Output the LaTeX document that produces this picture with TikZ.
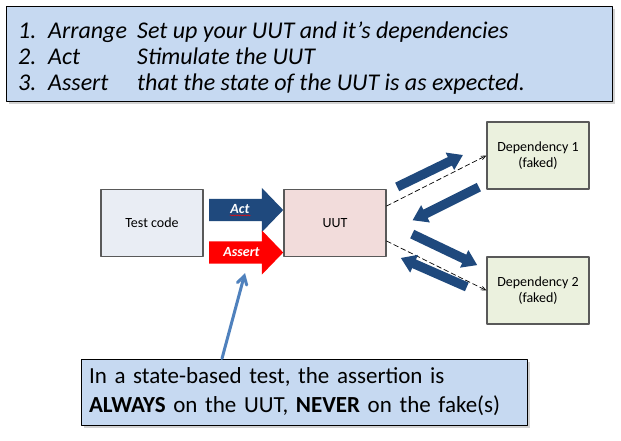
\documentclass[tikz,border=0pt]{standalone}
\usepackage{fontspec}
\setmainfont{Carlito}
\usetikzlibrary{arrows,shapes.arrows,shadows,decorations.pathmorphing}
\definecolor{darkblue}{HTML}{1F497D}
\definecolor{lightblue}{HTML}{C6D9F1}
\definecolor{midblue}{HTML}{4F81BD}
\definecolor{testfill}{HTML}{E9EDF4}
\definecolor{uutfill}{HTML}{F2DCDB}
\definecolor{depfill}{HTML}{EBF1DE}
\definecolor{boxline}{HTML}{595959}
\tikzset{
  box/.style={draw=boxline,line width=1.2pt,minimum width=102pt,minimum height=67pt,align=center,font=\fontsize{14}{16.5}\selectfont},
  fatarrow/.style={single arrow,fill=darkblue,draw=none,inner xsep=0pt,inner ysep=4.5pt,anchor=tail,single arrow head extend=5pt,single arrow tip angle=68},
  bigarrow/.style={single arrow,draw=none,inner xsep=0pt,inner ysep=11pt,anchor=tail,minimum height=74pt,single arrow head extend=11pt,single arrow tip angle=92},
  note/.style={draw=black,line width=1pt,fill=lightblue,drop shadow={opacity=0.35,shadow xshift=3pt,shadow yshift=-3pt}},
  arrowlbl/.style={text=white,inner sep=0.5pt,font=\fontsize{14}{16}\selectfont\bfseries\itshape},
  spell/.style={red,line width=0.5pt,decorate,decoration={snake,amplitude=0.6pt,segment length=2.5pt}}
}
\begin{document}
\begin{tikzpicture}[line cap=round,line join=round,>=angle 45,x=1pt,y=-1pt]
\path[use as bounding box,fill=white] (0,0) rectangle (621,440);
% the three steps
\node[note,minimum width=606pt,minimum height=95pt] (steps) at (309,53.5) {};
\foreach \i/\term/\desc in {1/Arrange/Set up your UUT and it’s dependencies,2/Act/Stimulate the UUT,3/Assert/that the state of the UUT is as expected.}
{
\node[anchor=base west,inner sep=0pt,font=\fontsize{24}{26}\selectfont\itshape] (num\i) at (18,12+26*\i) {\i.};
\node[anchor=base west,inner sep=0pt,font=\fontsize{24}{26}\selectfont\itshape] (term\i) at (48,12+26*\i) {\term};
\node[anchor=base west,inner sep=0pt,font=\fontsize{24}{26}\selectfont\itshape] (desc\i) at (137,12+26*\i) {\desc};
}
% boxes
\node[box,fill=testfill] (test) at (152,223) {Test code};
\node[box,fill=uutfill] (uut) at (335,223) {UUT};
\node[box,fill=depfill] (dep1) at (538,155.5) {Dependency 1\\(faked)};
\node[box,fill=depfill] (dep2) at (538,290.5) {Dependency 2\\(faked)};
% act and assert
\node[bigarrow,fill=darkblue] (act) at (209,210) {};
\node[bigarrow,fill=red] (assert) at (209,252.5) {};
\node[arrowlbl] (actlbl) at (240,209) {Act};
\node[arrowlbl] (assertlbl) at (241.5,252) {Assert};
\draw[spell] ([yshift=-1pt]actlbl.south west) -- ([yshift=-1pt]actlbl.south east);
\draw[spell] ([yshift=-1pt]assertlbl.south west) -- ([yshift=-1pt]assertlbl.south east);
% calls to the fakes
\draw[->,dashed,dash pattern=on 5pt off 3pt,line width=0.7pt] ([yshift=17pt]uut.east) -- (dep1.west);
\draw[->,dashed,dash pattern=on 5pt off 3pt,line width=0.7pt] ([yshift=-18pt]uut.east) -- (dep2.west);
\node[fatarrow,rotate=25.9,minimum height=73pt] (out1) at (397,187) {};
\node[fatarrow,rotate=206.6,minimum height=74pt] (in1) at (479,187) {};
\node[fatarrow,rotate=-25.5,minimum height=72pt] (out2) at (412,234) {};
\node[fatarrow,rotate=156.3,minimum height=72pt] (in2) at (467,287) {};
% the remark
\node[note,text width=430pt,minimum height=66pt,inner sep=8pt,align=left,font=\fontsize{23}{29}\selectfont] (remark) at (304,392) {In a state-based test, the assertion is\\\textbf{ALWAYS} on the UUT, \textbf{NEVER} on the fake(s)};
\coordinate (asserttip) at (245,273);
\draw[->,>=angle 60,midblue,line width=3pt] ([xshift=-82pt]remark.north) -- (asserttip);
\end{tikzpicture}
\end{document}
